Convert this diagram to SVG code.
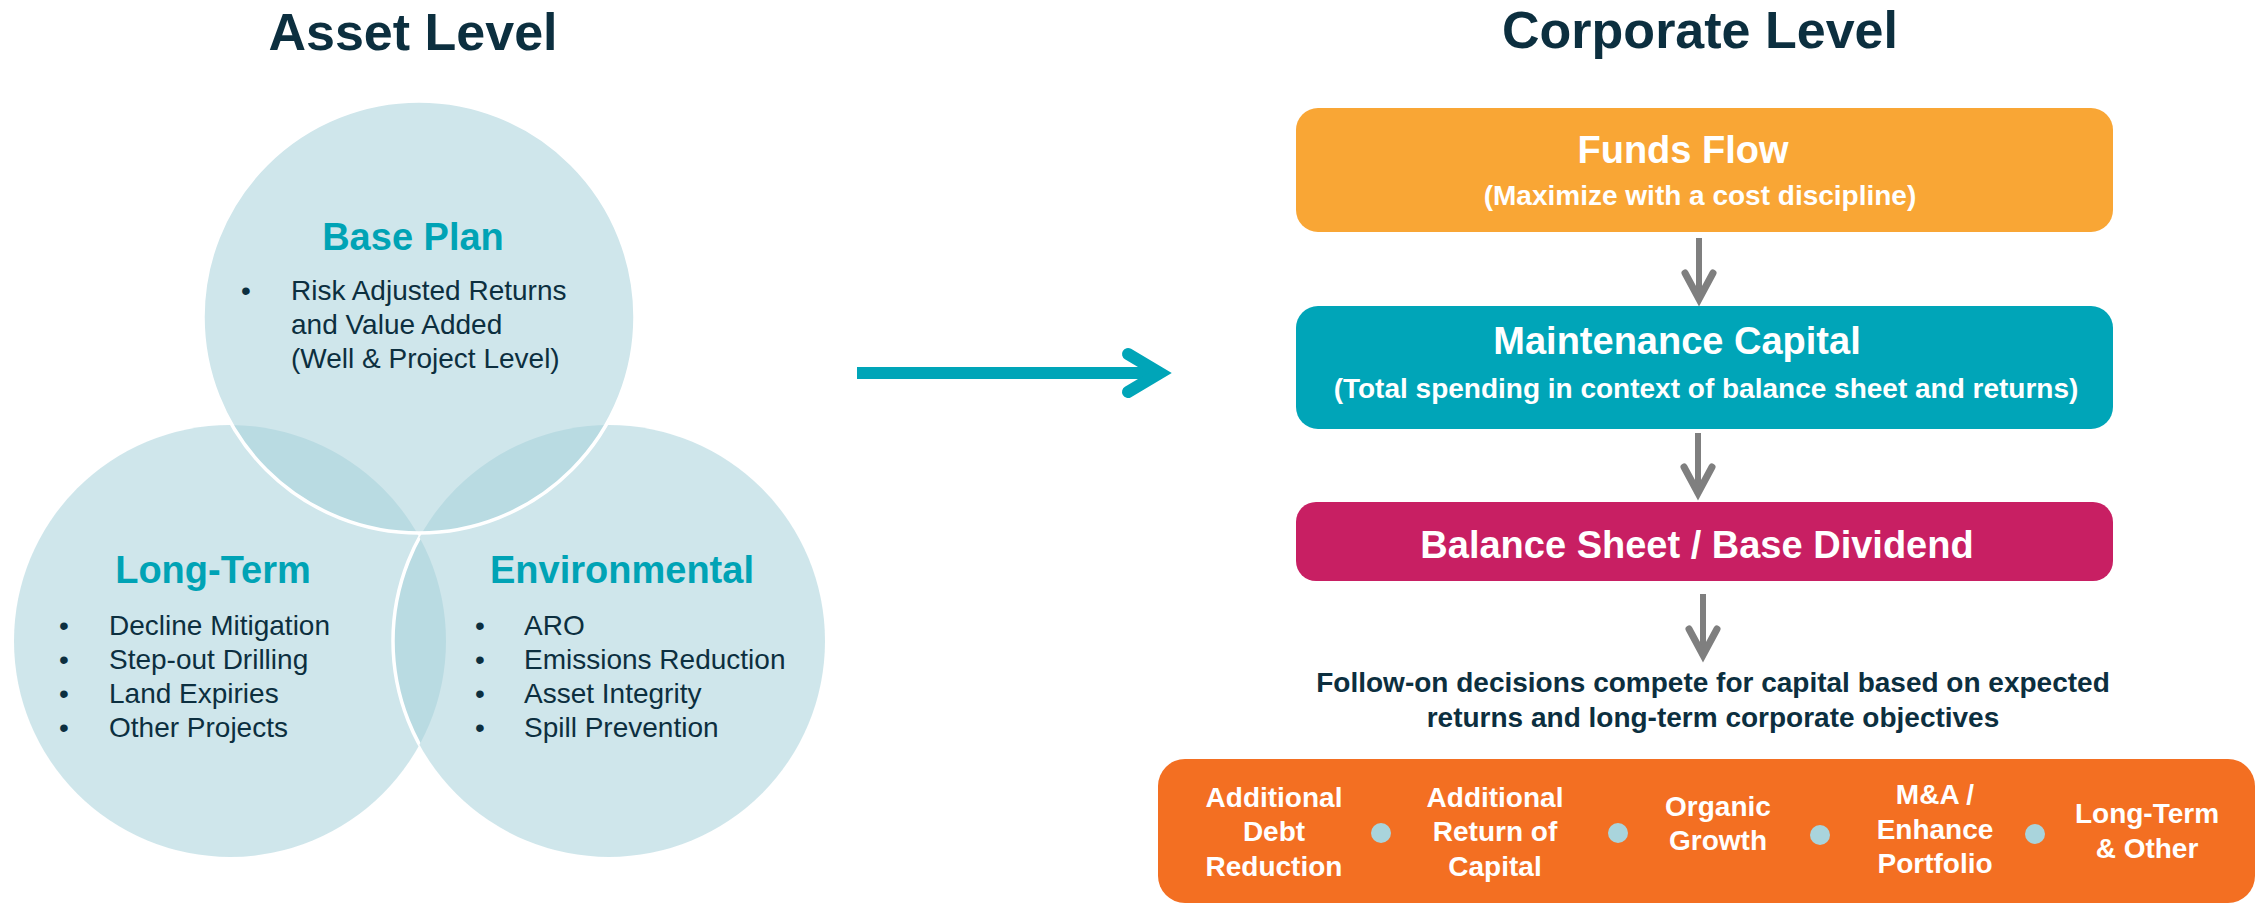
<svg xmlns="http://www.w3.org/2000/svg" width="2259" height="904" viewBox="0 0 2259 904">
<style>
text{font-family:"Liberation Sans",Arial,sans-serif}
.title{font-size:52px;font-weight:bold;fill:#0C2F3F;text-anchor:middle}
.ctitle{font-size:38px;font-weight:bold;fill:#00A3B5;text-anchor:middle}
.body{font-size:28px;fill:#0C2F3F}
.circ{fill:#A8D2DB;fill-opacity:0.55}
.bt{font-size:38px;font-weight:bold;fill:#FFFFFF;text-anchor:middle}
.bs{font-size:28px;font-weight:bold;fill:#FFFFFF;text-anchor:middle}
.item{font-size:28px;font-weight:bold;fill:#FFFFFF;text-anchor:middle}
.follow{font-size:28px;font-weight:bold;fill:#0C2F3F;text-anchor:middle}
.dot{fill:#A9D4DC}
.garrow{stroke:#7F7F7F;fill:none}
</style>
<defs>
<clipPath id="clipLeft"><circle cx="230" cy="641" r="216"/></clipPath>
</defs>

<text class="title" x="413" y="50">Asset Level</text>
<text class="title" x="1700" y="48">Corporate Level</text>

<g id="long-term">
<circle class="circ" cx="230" cy="641" r="216"/>
</g>
<g id="environmental">
<circle class="circ" cx="609" cy="641" r="216"/>
<circle cx="609" cy="641" r="216" fill="none" stroke="#FFFFFF" stroke-width="3.5" clip-path="url(#clipLeft)"/>
</g>
<g id="base-plan">
<circle class="circ" cx="419" cy="317" r="216" stroke="#FFFFFF" stroke-width="3.5"/>
<text class="ctitle" x="413" y="250">Base Plan</text>
<text class="body" x="241" y="300">•</text>
<text class="body" x="291" y="300">Risk Adjusted Returns</text>
<text class="body" x="291" y="334">and Value Added</text>
<text class="body" x="291" y="368">(Well &amp; Project Level)</text>
</g>
<g id="long-term-text">
<text class="ctitle" x="213" y="583">Long-Term</text>
<text class="body" x="59" y="635">•</text>
<text class="body" x="109" y="635">Decline Mitigation</text>
<text class="body" x="59" y="669">•</text>
<text class="body" x="109" y="669">Step-out Drilling</text>
<text class="body" x="59" y="703">•</text>
<text class="body" x="109" y="703">Land Expiries</text>
<text class="body" x="59" y="737">•</text>
<text class="body" x="109" y="737">Other Projects</text>
</g>
<g id="environmental-text">
<text class="ctitle" x="622" y="583">Environmental</text>
<text class="body" x="475" y="635">•</text>
<text class="body" x="524" y="635">ARO</text>
<text class="body" x="475" y="669">•</text>
<text class="body" x="524" y="669">Emissions Reduction</text>
<text class="body" x="475" y="703">•</text>
<text class="body" x="524" y="703">Asset Integrity</text>
<text class="body" x="475" y="737">•</text>
<text class="body" x="524" y="737">Spill Prevention</text>
</g>

<g id="funds-flow">
<rect x="1296" y="108" width="817" height="124" rx="22" fill="#F9A635"/>
<text class="bt" x="1683" y="163">Funds Flow</text>
<text class="bs" x="1700" y="205">(Maximize with a cost discipline)</text>
</g>
<g id="maintenance-capital">
<rect x="1296" y="306" width="817" height="123" rx="22" fill="#00A5B8"/>
<text class="bt" x="1677" y="354">Maintenance Capital</text>
<text class="bs" x="1706" y="398">(Total spending in context of balance sheet and returns)</text>
</g>
<g id="balance-sheet">
<rect x="1296" y="502" width="817" height="79" rx="20" fill="#C81F63"/>
<text class="bt" x="1697" y="558">Balance Sheet / Base Dividend</text>
</g>
<g id="follow-on">
<text class="follow" x="1713" y="692">Follow-on decisions compete for capital based on expected</text>
<text class="follow" x="1713" y="727">returns and long-term corporate objectives</text>
</g>
<g id="options">
<rect x="1158" y="759" width="1097" height="144" rx="27" fill="#F36F22"/>
<text class="item" x="1274" y="807">Additional</text>
<text class="item" x="1274" y="841">Debt</text>
<text class="item" x="1274" y="876">Reduction</text>
<circle class="dot" cx="1381" cy="833" r="10"/>
<text class="item" x="1495" y="807">Additional</text>
<text class="item" x="1495" y="841">Return of</text>
<text class="item" x="1495" y="876">Capital</text>
<circle class="dot" cx="1618" cy="833" r="10"/>
<text class="item" x="1718" y="816">Organic</text>
<text class="item" x="1718" y="850">Growth</text>
<circle class="dot" cx="1820" cy="835" r="10"/>
<text class="item" x="1935" y="804">M&amp;A /</text>
<text class="item" x="1935" y="839">Enhance</text>
<text class="item" x="1935" y="873">Portfolio</text>
<circle class="dot" cx="2035" cy="834" r="10"/>
<text class="item" x="2147" y="823">Long-Term</text>
<text class="item" x="2147" y="858">&amp; Other</text>
</g>

<g id="connectors">
<line x1="857" y1="373" x2="1162" y2="373" stroke="#00A5B8" stroke-width="12"/>
<polyline points="1128,354 1160,373 1128,392" fill="none" stroke="#00A5B8" stroke-width="12" stroke-linecap="round" stroke-linejoin="miter"/>
<line class="garrow" x1="1699" y1="238" x2="1699" y2="296" stroke-width="6"/>
<polyline class="garrow" points="1685,273 1699,299 1713,273" stroke-width="7" stroke-linecap="round"/>
<line class="garrow" x1="1698" y1="433" x2="1698" y2="489" stroke-width="6"/>
<polyline class="garrow" points="1684,467 1698,493 1712,467" stroke-width="7" stroke-linecap="round"/>
<line class="garrow" x1="1703" y1="594" x2="1703" y2="651" stroke-width="6"/>
<polyline class="garrow" points="1689,629 1703,655 1717,629" stroke-width="7" stroke-linecap="round"/>
</g>
</svg>
